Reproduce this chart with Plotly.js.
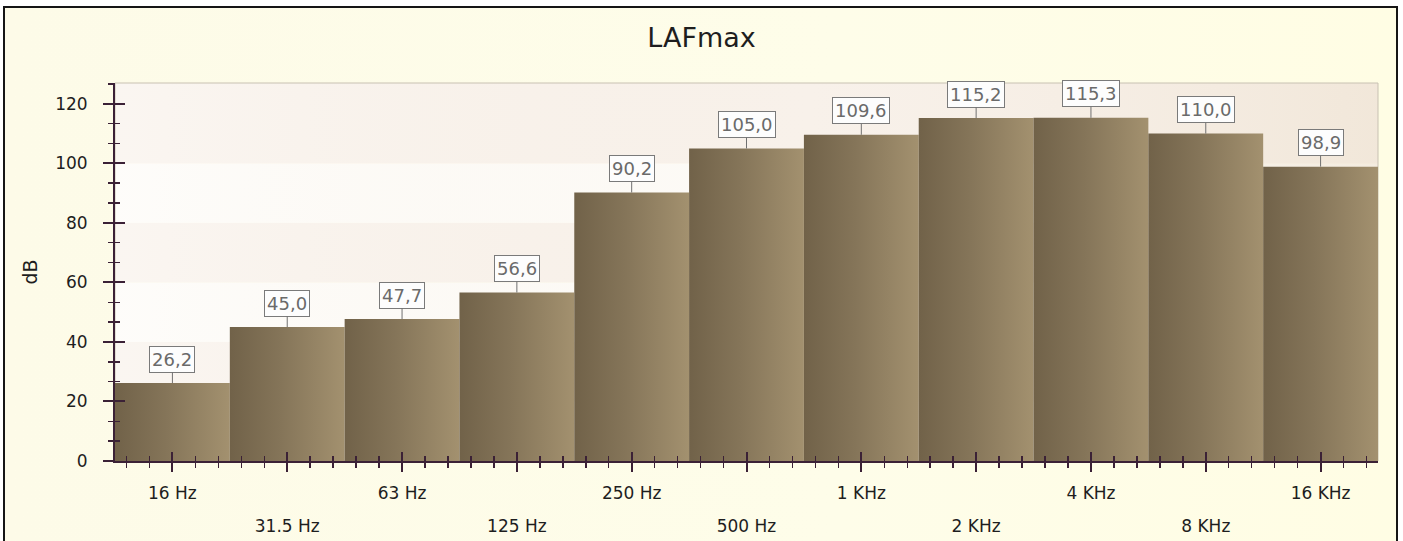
<!DOCTYPE html>
<html>
<head>
<meta charset="utf-8">
<script src="https://cdn.plot.ly/plotly-3.0.1.min.js"></script>
<style>
  html, body { margin: 0; padding: 0; background: #ffffff; }
  #wrap { position: relative; width: 1403px; height: 541px; overflow: hidden; }
  #frame { position: absolute; left: 3px; top: 6px; width: 1391px; height: 560px;
           border: 2px solid #151515; background: linear-gradient(90deg, #fdfbe8 0%, #fefde9 60%, #fffde4 100%); }
  #chart { position: absolute; left: 0; top: 0; width: 1403px; height: 541px; }
</style>
</head>
<body>
<div id="wrap">
  <div id="frame"></div>
  <div id="chart"></div>
</div>
<script>
// ---- data ----
const categories = ['16 Hz', '31.5 Hz', '63 Hz', '125 Hz', '250 Hz', '500 Hz', '1 KHz', '2 KHz', '4 KHz', '8 KHz', '16 KHz'];
const values = [26.2, 45.0, 47.7, 56.6, 90.2, 105.0, 109.6, 115.2, 115.3, 110.0, 98.9];
const yTickValues = [0, 20, 40, 60, 80, 100, 120];
const yTickLabels = ['0', '20', '40', '60', '80', '100', '120'];
const chartTitle = 'LAFmax';
const yTitle = 'dB';

// ---- derived ----
const idx = categories.map((c, i) => i);
const row1Labels = categories.map((c, i) => (i % 2 === 0 ? c : ''));
const row2Labels = categories.map((c, i) => (i % 2 === 1 ? c : ''));
const valueLabels = values.map(v => v.toFixed(1).replace('.', ','));

const yMax = 127;
const xRange = [-0.5, categories.length - 0.5];
const axisColor = '#3b2136';
const font = 'DejaVu Sans, Verdana, sans-serif';

const barScale = [[0, '#716249'], [0.45, '#857559'], [1, '#a3916f']];

// bars as gradient-filled areas, one per category
const traces = idx.map(i => ({
  type: 'scatter',
  mode: 'lines',
  x: [i - 0.5, i - 0.5, i + 0.5, i + 0.5, i - 0.5],
  y: [0, values[i], values[i], 0, 0],
  fill: 'toself',
  fillgradient: { type: 'horizontal', colorscale: barScale },
  line: { width: 0, color: 'rgba(0,0,0,0)' },
  hoverinfo: 'skip',
  showlegend: false,
  xaxis: 'x', yaxis: 'y'
}));

// invisible trace for the overlay axes
traces.push({
  type: 'scatter', mode: 'markers', x: idx, y: values,
  marker: { opacity: 0 }, hoverinfo: 'skip', showlegend: false,
  xaxis: 'x2', yaxis: 'y2'
});

// background bands in plot area (SVG image)
function bandSvg() {
  const W = 1000, H = 1000;
  let rects = '';
  const edges = [0, 20, 40, 60, 80, 100, yMax];
  for (let k = 0; k < edges.length - 1; k++) {
    const y0 = H - edges[k + 1] / yMax * H;
    const h = (edges[k + 1] - edges[k]) / yMax * H;
    const col = (k % 2 === 0) ? '#fdfbf7' : '#f8f1ea';
    rects += `<rect x="0" y="${y0}" width="${W}" height="${h}" fill="${col}"/>`;
  }
  const svg = `<svg xmlns="http://www.w3.org/2000/svg" width="${W}" height="${H}" preserveAspectRatio="none">` +
    `<defs><linearGradient id="g" x1="0" y1="0" x2="1" y2="0">` +
    `<stop offset="0" stop-color="#ffffff" stop-opacity="0.35"/>` +
    `<stop offset="0.55" stop-color="#f3e9dc" stop-opacity="0.0"/>` +
    `<stop offset="1" stop-color="#ecdfcc" stop-opacity="0.55"/>` +
    `</linearGradient></defs>` + rects +
    `<rect x="0" y="0" width="${W}" height="${H}" fill="url(#g)"/></svg>`;
  return 'data:image/svg+xml;base64,' + btoa(svg);
}

const annotations = idx.map(i => ({
  x: i, y: values[i], xref: 'x', yref: 'y',
  text: valueLabels[i],
  showarrow: true, arrowhead: 0, arrowwidth: 1, arrowcolor: '#707070',
  ax: 0, ay: -24, standoff: 0,
  bgcolor: '#fdfdfd', bordercolor: '#7a7a7a', borderwidth: 1, borderpad: 2,
  font: { family: font, size: 18, color: '#6a6a6a' }
}));

const layout = {
  width: 1403, height: 541,
  margin: { l: 115, r: 25, t: 83, b: 80 },
  paper_bgcolor: 'rgba(0,0,0,0)',
  plot_bgcolor: 'rgba(0,0,0,0)',
  showlegend: false,
  title: {
    text: chartTitle, x: 0.5, xref: 'container', y: 1 - 38 / 541, yref: 'container', yanchor: 'middle',
    font: { family: font, size: 27, color: '#1e1e1e' }
  },
  xaxis: {
    range: xRange, tickmode: 'array', tickvals: idx, ticktext: row1Labels,
    showline: true, linecolor: axisColor, linewidth: 2,
    ticks: 'outside', ticklen: 9, tickwidth: 2, tickcolor: axisColor,
    minor: { tickmode: 'linear', tick0: 0, dtick: 0.2, ticks: 'outside', ticklen: 5, tickwidth: 1.5, tickcolor: axisColor },
    ticklabelstandoff: 7,
    tickfont: { family: font, size: 17, color: '#1e1e1e' },
    showgrid: false, zeroline: false, fixedrange: true
  },
  xaxis2: {
    overlaying: 'x', anchor: 'y2', side: 'bottom',
    range: xRange, tickmode: 'array', tickvals: idx, ticktext: row2Labels,
    showline: false,
    ticks: 'inside', ticklen: 9, tickwidth: 2, tickcolor: axisColor,
    minor: { tickmode: 'linear', tick0: 0, dtick: 0.2, ticks: 'inside', ticklen: 5, tickwidth: 1.5, tickcolor: axisColor },
    ticklabelstandoff: 53,
    tickfont: { family: font, size: 17, color: '#1e1e1e' },
    showgrid: false, zeroline: false, fixedrange: true
  },
  yaxis: {
    range: [0, yMax], tickmode: 'array', tickvals: yTickValues, ticktext: yTickLabels,
    showline: true, linecolor: axisColor, linewidth: 2,
    ticks: 'outside', ticklen: 10, tickwidth: 2, tickcolor: axisColor,
    minor: { tickmode: 'linear', tick0: 0, dtick: 20 / 3, ticks: 'outside', ticklen: 5, tickwidth: 1.5, tickcolor: axisColor },
    ticklabelstandoff: 12,
    tickfont: { family: font, size: 17, color: '#1e1e1e' },
    title: { text: yTitle, standoff: 12, font: { family: font, size: 19, color: '#1e1e1e' } },
    showgrid: false, zeroline: false, fixedrange: true
  },
  yaxis2: {
    overlaying: 'y', anchor: 'x2', side: 'left',
    range: [0, yMax], tickmode: 'array', tickvals: yTickValues, showticklabels: false,
    showline: false,
    ticks: 'inside', ticklen: 10, tickwidth: 2, tickcolor: axisColor,
    minor: { tickmode: 'linear', tick0: 0, dtick: 20 / 3, ticks: 'inside', ticklen: 5, tickwidth: 1.5, tickcolor: axisColor },
    showgrid: false, zeroline: false, fixedrange: true
  },
  images: [{
    source: bandSvg(), xref: 'paper', yref: 'paper', x: 0, y: 1, sizex: 1, sizey: 1,
    sizing: 'stretch', xanchor: 'left', yanchor: 'top', layer: 'below'
  }],
  shapes: [{
    type: 'rect', xref: 'paper', yref: 'paper', x0: 0, x1: 1, y0: 0, y1: 1,
    line: { color: '#c8c1b2', width: 1 }, fillcolor: 'rgba(0,0,0,0)', layer: 'below'
  }],
  annotations: annotations
};

Plotly.newPlot('chart', traces, layout, { displayModeBar: false, staticPlot: true });
</script>
</body>
</html>
